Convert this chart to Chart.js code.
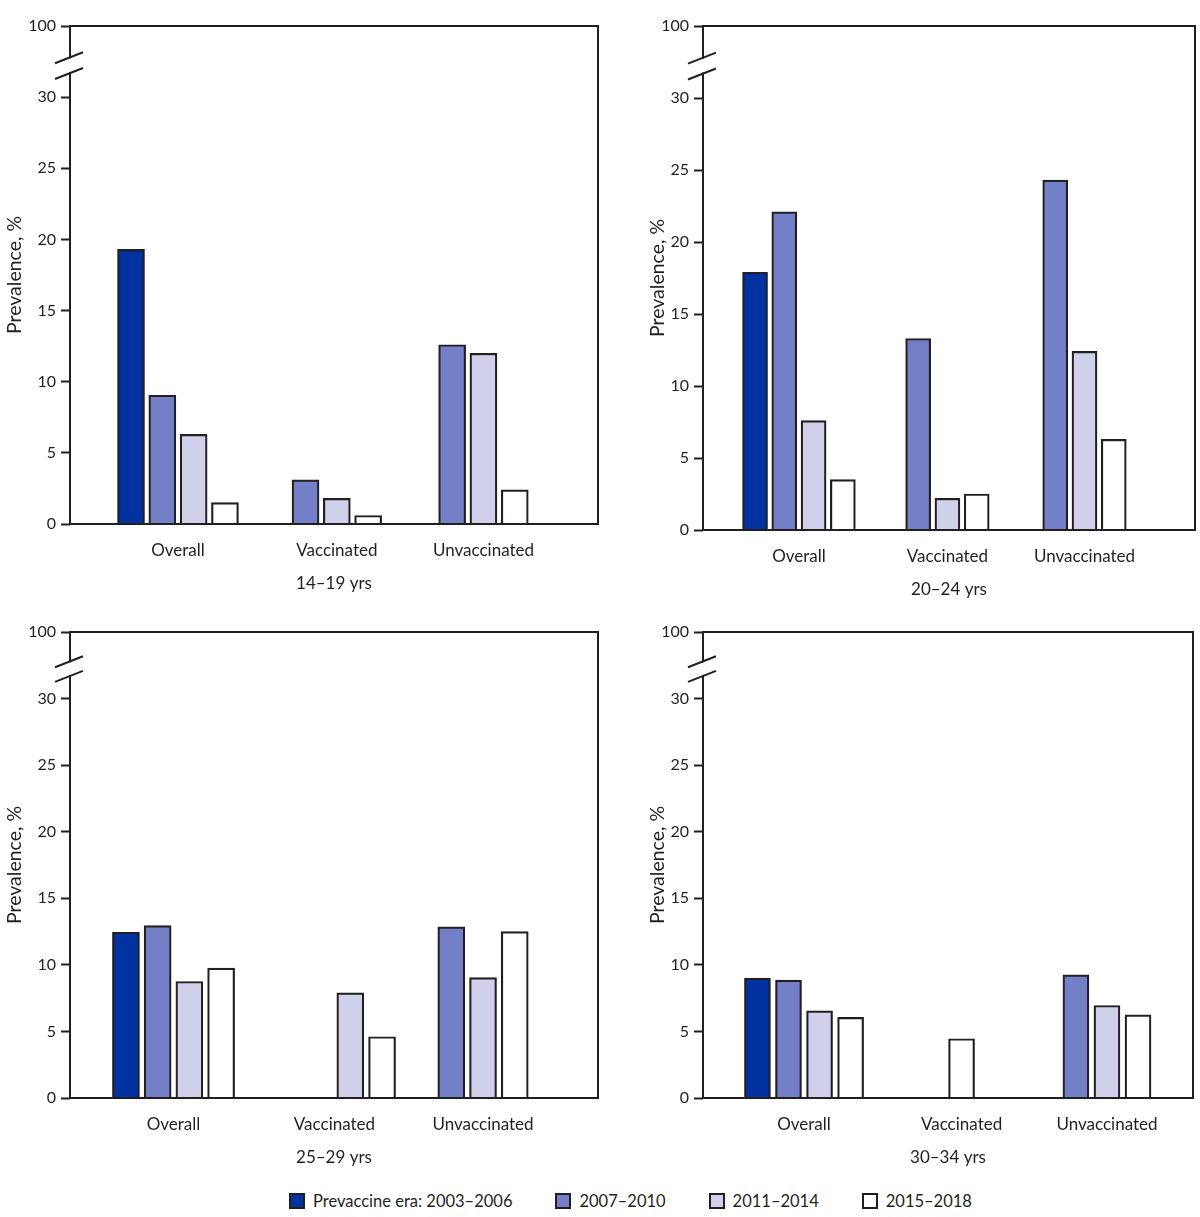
<!DOCTYPE html>
<html>
<head>
<meta charset="utf-8">
<script src="https://cdn.jsdelivr.net/npm/chart.js@4.4.1/dist/chart.umd.min.js"></script>
<style>
body{margin:0;background:#fff;width:1200px;height:1217px;position:relative;font-family:Lato,sans-serif;color:#231f20;overflow:hidden;}
.panel{position:absolute;}
#legend{position:absolute;left:289px;top:1191px;display:flex;gap:43px;font-size:16.5px;line-height:20px;}
.item{display:flex;align-items:center;}
.sw{width:12px;height:12px;border:2px solid #231f20;margin-right:8px;}
</style>
</head>
<body>
<div class="panel" style="left:0;top:0;width:600px;height:600px"><canvas id="c0"></canvas></div>
<div class="panel" style="left:600px;top:0;width:600px;height:606px"><canvas id="c1"></canvas></div>
<div class="panel" style="left:0;top:606px;width:600px;height:568px"><canvas id="c2"></canvas></div>
<div class="panel" style="left:600px;top:606px;width:600px;height:568px"><canvas id="c3"></canvas></div>
<div id="legend"></div>
<script>
var ageGroups = ['14–19 yrs', '20–24 yrs', '25–29 yrs', '30–34 yrs'];
var groups = ['Overall', 'Vaccinated', 'Unvaccinated'];
var periods = ['Prevaccine era: 2003–2006', '2007–2010', '2011–2014', '2015–2018'];
var colors = ['#0033a1', '#737fc6', '#d0d0ea', '#ffffff'];
var yTicks = [0, 5, 10, 15, 20, 25, 30, 35];
var yTickLabels = ['0', '5', '10', '15', '20', '25', '30', '100'];

// prevalence %, one row per age group: [Overall, Vaccinated, Unvaccinated]
// null = no bar, 0 = no bar shown but its place is kept
var v2003 = [[19.3, null, null], [17.9, null, null], [12.45, 0, null], [9.0, null, null]];
var v2007 = [[9.05, 3.1, 12.6], [22.1, 13.3, 24.3], [12.95, 0, 12.85], [8.85, null, 9.25]];
var v2011 = [[6.3, 1.8, 12.0], [7.6, 2.2, 12.4], [8.75, 7.9, 9.05], [6.55, null, 6.95]];
var v2015 = [[1.5, 0.6, 2.4], [3.5, 2.5, 6.3], [9.75, 4.6, 12.5], [6.05, 4.45, 6.25]];
var series = [v2003, v2007, v2011, v2015];

var ink = '#231f20';
var catPos = [0, 1.04, 2];
var pitch = 0.205;

var panels = [
  {pad: {left: 0, right: 2, top: 26, bottom: 0}, yw: 70, xmin: -0.707, xmax: 2.75, bar: 27},
  {pad: {left: 43, right: 5, top: 26, bottom: 0}, yw: 60, xmin: -0.672, xmax: 2.774, bar: 25},
  {pad: {left: 0, right: 2, top: 26, bottom: 0}, yw: 70, xmin: -0.669, xmax: 2.743, bar: 27},
  {pad: {left: 43, right: 7, top: 26, bottom: 0}, yw: 60, xmin: -0.667, xmax: 2.568, bar: 26}
];

var framePlugin = {
  id: 'frame',
  afterDatasetsDraw: function(chart) {
    var a = chart.chartArea, ctx = chart.ctx, y = chart.scales.y;
    ctx.save();
    ctx.strokeStyle = ink;
    ctx.lineWidth = 2;
    ctx.strokeRect(a.left, a.top, a.right - a.left, a.bottom - a.top);
    var y1 = y.getPixelForValue(32.8), y2 = y.getPixelForValue(31.7);
    ctx.strokeStyle = '#fff';
    ctx.lineWidth = 5;
    ctx.beginPath(); ctx.moveTo(a.left, y1 + 1); ctx.lineTo(a.left, y2 - 1); ctx.stroke();
    ctx.strokeStyle = ink;
    ctx.lineWidth = 2;
    [y1, y2].forEach(function(yy) {
      ctx.beginPath(); ctx.moveTo(a.left - 15, yy + 6); ctx.lineTo(a.left + 13, yy - 5); ctx.stroke();
    });
    ctx.restore();
  }
};

function makeData(p) {
  var sets = [];
  for (var k = 0; k < periods.length; k++) {
    var pts = [];
    for (var g = 0; g < groups.length; g++) {
      var slots = [];
      for (var j = 0; j < series.length; j++) {
        if (series[j][p][g] !== null) slots.push(j);
      }
      var v = series[k][p][g];
      if (v === null || v === 0) continue;
      var rank = slots.indexOf(k);
      pts.push({x: catPos[g] + (rank - (slots.length - 1) / 2) * pitch, y: v});
    }
    sets.push({
      label: periods[k],
      data: pts,
      backgroundColor: colors[k],
      borderColor: ink,
      borderWidth: 2.2,
      barThickness: panels[p].bar,
      grouped: false
    });
  }
  return sets;
}

for (var p = 0; p < 4; p++) {
  (function(p) {
    var cfg = panels[p];
    new Chart(document.getElementById('c' + p), {
      type: 'bar',
      data: {datasets: makeData(p)},
      plugins: [framePlugin],
      options: {
        animation: false,
        responsive: true,
        maintainAspectRatio: false,
        layout: {padding: cfg.pad},
        plugins: {legend: {display: false}, tooltip: {enabled: false}},
        scales: {
          x: {
            type: 'linear',
            offset: false,
            min: cfg.xmin,
            max: cfg.xmax,
            afterBuildTicks: function(s) { s.ticks = catPos.map(function(v) { return {value: v}; }); },
            afterFit: function(s) { s.height = 76; },
            ticks: {
              callback: function(v) { return groups[catPos.indexOf(v)]; },
              autoSkip: false, maxRotation: 0, padding: 16,
              color: ink, font: {family: 'Lato', size: 17}
            },
            grid: {display: false, drawTicks: false},
            border: {display: false},
            title: {display: true, text: ageGroups[p], color: ink,
                    font: {family: 'Lato', size: 17}, padding: {top: 0, bottom: 6}}
          },
          y: {
            min: 0,
            max: 35,
            afterBuildTicks: function(s) { s.ticks = yTicks.map(function(v) { return {value: v}; }); },
            afterFit: function(s) { s.width = cfg.yw; },
            ticks: {
              callback: function(v) { return yTickLabels[yTicks.indexOf(v)]; },
              padding: 5, color: ink, font: {family: 'Lato', size: 16}
            },
            grid: {drawOnChartArea: false, drawTicks: true, tickLength: 9, tickWidth: 2, tickColor: ink},
            border: {display: false},
            title: {display: true, text: 'Prevalence, %', color: ink,
                    font: {family: 'Lato', size: 19.5}, padding: {top: 3, bottom: 0}}
          }
        }
      }
    });
  })(p);
}

var legend = document.getElementById('legend');
periods.forEach(function(name, k) {
  var item = document.createElement('div');
  item.className = 'item';
  var sw = document.createElement('span');
  sw.className = 'sw';
  sw.style.background = colors[k];
  var t = document.createElement('span');
  t.textContent = name;
  item.appendChild(sw);
  item.appendChild(t);
  legend.appendChild(item);
});
</script>
</body>
</html>
